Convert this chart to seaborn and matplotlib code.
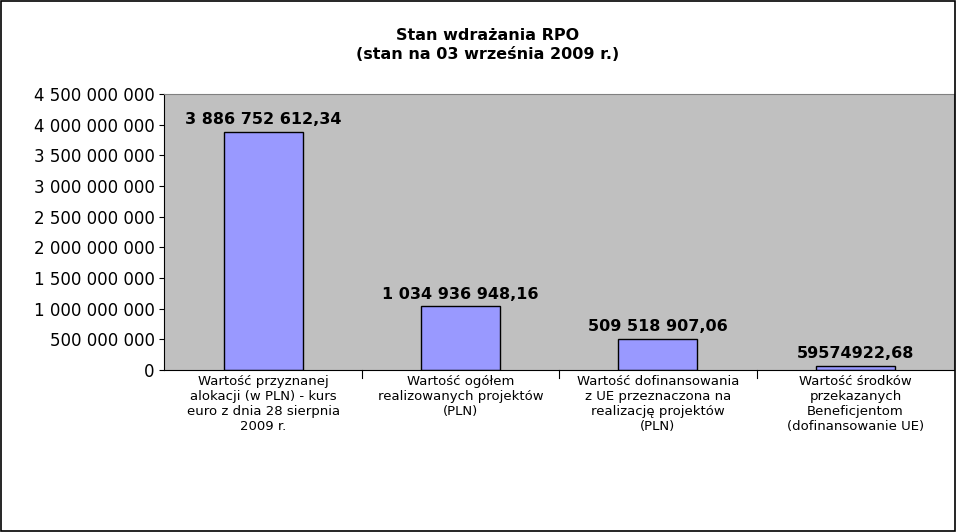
import matplotlib
matplotlib.use("Agg")
import matplotlib.pyplot as plt
import seaborn as sns
import pandas as pd
from matplotlib.patches import Rectangle

categories = [
    "Wartość przyznanej\nalokacji (w PLN) - kurs\neuro z dnia 28 sierpnia\n2009 r.",
    "Wartość ogółem\nrealizowanych projektów\n(PLN)",
    "Wartość dofinansowania\nz UE przeznaczona na\nrealizację projektów\n(PLN)",
    "Wartość środków\nprzekazanych\nBeneficjentom\n(dofinansowanie UE)",
]
values = [3886752612.34, 1034936948.16, 509518907.06, 59574922.68]
value_labels = ["3 886 752 612,34", "1 034 936 948,16", "509 518 907,06", "59574922,68"]
yticks = list(range(0, 4500000001, 500000000))

df = pd.DataFrame({"cat": categories, "val": values})

fig = plt.figure(figsize=(9.56, 5.32), dpi=100)
fig.patches.append(Rectangle((0.001, 0.001), 0.998, 0.997, transform=fig.transFigure,
                             fill=False, edgecolor="black", linewidth=1.2))
ax = fig.add_axes([0.172, 0.305, 0.826, 0.518])
ax.set_facecolor("#C0C0C0")
sns.barplot(data=df, x="cat", y="val", ax=ax, color="#9999FF", edgecolor="black",
            linewidth=1, width=0.4, saturation=1)
ax.set_ylim(0, 4500000000)
ax.set_yticks(yticks)
ax.set_yticklabels([f"{v:,}".replace(",", " ") for v in yticks], fontsize=12)
ax.set_xlim(-0.5, 3.5)
ax.set_xlabel("")
ax.set_ylabel("")
ax.tick_params(axis="x", labelsize=9.5, length=0)
for i, (v, lab) in enumerate(zip(values, value_labels)):
    ax.text(i, v + 200000000, lab, ha="center", va="center", fontsize=11.5, fontweight="bold")
for i in range(1, 4):
    ax.plot([i - 0.5, i - 0.5], [0, -0.03], transform=ax.get_xaxis_transform(),
            color="black", lw=0.8, clip_on=False)
for s in ax.spines.values():
    s.set_color("#808080")
ax.spines["left"].set_color("black")
ax.spines["bottom"].set_color("black")
fig.text(0.51, 0.915, "Stan wdrażania RPO\n(stan na 03 września 2009 r.)", ha="center",
         va="center", fontsize=11.5, fontweight="bold", linespacing=1.3)
fig.savefig("out.png", dpi=100)
